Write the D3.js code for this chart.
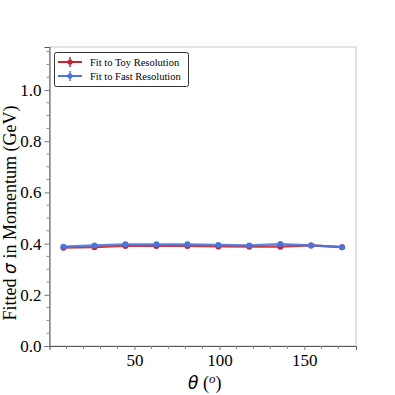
<!DOCTYPE html>
<html>
<head>
<meta charset="utf-8">
<script src="https://cdn.jsdelivr.net/npm/d3@7"></script>
<style>
  body { margin: 0; background: #fff; }
  svg { display: block; }
  .tick text { font-family: 'Liberation Serif', 'Times New Roman', serif !important; }
</style>
</head>
<body>
<div id="chart"></div>
<script>
// DATA

var theta = [8.2, 26.5, 44.7, 62.9, 81.2, 99.4, 117.6, 135.9, 154.0, 172.2];
var toySigma = [0.384, 0.386, 0.391, 0.391, 0.391, 0.389, 0.388, 0.388, 0.393, 0.386];
var toyErr = [0.006, 0.006, 0.006, 0.006, 0.006, 0.006, 0.006, 0.006, 0.006, 0.006];
var fastSigma = [0.388, 0.393, 0.397, 0.397, 0.397, 0.395, 0.393, 0.398, 0.393, 0.386];
var fastErr = [0.005, 0.005, 0.005, 0.005, 0.005, 0.005, 0.005, 0.005, 0.005, 0.005];
var xTicks = [50, 100, 150];
var yTicks = [0.0, 0.2, 0.4, 0.6, 0.8, 1.0];
var seriesNames = ["Fit to Toy Resolution", "Fit to Fast Resolution"];
var seriesColors = ["#c1272d", "#4a74e0"];

// CHART

var width = 395, height = 395;
var plotLeft = 49.5, plotRight = 356, plotTop = 47, plotBottom = 346;

var svg = d3.select("#chart").append("svg")
    .attr("width", width)
    .attr("height", height);

var x = d3.scaleLinear().domain([0, 180.4]).range([plotLeft, plotRight]);
var y = d3.scaleLinear().domain([0, 1.168]).range([plotBottom, plotTop]);

// frame (top / right light)
svg.append("rect")
    .attr("x", plotLeft).attr("y", plotTop)
    .attr("width", plotRight - plotLeft).attr("height", plotBottom - plotTop)
    .attr("fill", "none").attr("stroke", "#c8c8c8").attr("stroke-width", 1);

var serif = "'Liberation Serif', 'Times New Roman', serif";

// y axis
var yAxis = d3.axisLeft(y).tickValues(yTicks).tickFormat(d3.format(".1f")).tickSize(5).tickPadding(3);
var gy = svg.append("g").attr("transform", "translate(" + plotLeft + ",0)").call(yAxis);
gy.select(".domain").attr("stroke", "#555");
gy.selectAll(".tick line").attr("stroke", "#777");
gy.selectAll("text").style("font-family", serif).style("font-size", "17px").attr("fill", "#000");

var yMinor = d3.range(0, 1.17, 0.05).filter(v => Math.abs(Math.round(v * 5) - v * 5) > 1e-6);
svg.append("g").selectAll("line").data(yMinor).join("line")
    .attr("x1", plotLeft - 3).attr("x2", plotLeft)
    .attr("y1", d => y(d)).attr("y2", d => y(d))
    .attr("stroke", "#888");

// x axis
var xAxis = d3.axisBottom(x).tickValues(xTicks).tickSize(4).tickPadding(4);
var gx = svg.append("g").attr("transform", "translate(0," + plotBottom + ")").call(xAxis);
gx.select(".domain").attr("stroke", "#555");
gx.selectAll(".tick line").attr("stroke", "#777");
gx.selectAll("text").style("font-family", serif).style("font-size", "17px").attr("fill", "#000");

var xMinor = d3.range(10, 180, 10).filter(v => v % 50 != 0);
svg.append("g").selectAll("line").data(xMinor).join("line")
    .attr("x1", d => x(d)).attr("x2", d => x(d))
    .attr("y1", plotBottom).attr("y2", plotBottom + 3)
    .attr("stroke", "#888");

// axis titles
var xt = svg.append("text")
    .attr("x", (plotLeft + plotRight) / 2 + 2).attr("y", 389)
    .attr("text-anchor", "middle")
    .attr("font-family", serif).attr("font-size", 18);
xt.append("tspan").attr("font-family", "'DejaVu Sans', sans-serif").attr("font-style", "italic").attr("font-size", 17).text("θ");
xt.append("tspan").text(" (");
xt.append("tspan").attr("font-style", "italic").attr("font-size", 13).attr("dy", -6).text("o");
xt.append("tspan").attr("dy", 6).text(")");

var yt = svg.append("text")
    .attr("transform", "translate(16,213) rotate(-90)")
    .attr("text-anchor", "middle")
    .attr("font-family", serif).attr("font-size", 18);
yt.append("tspan").text("Fitted ");
yt.append("tspan").attr("font-family", "'DejaVu Sans', sans-serif").attr("font-style", "italic").attr("font-size", 17).text("σ");
yt.append("tspan").text(" in Momentum (GeV)");

// series
var series = [
    { name: seriesNames[0], color: seriesColors[0], vals: toySigma, errs: toyErr },
    { name: seriesNames[1], color: seriesColors[1], vals: fastSigma, errs: fastErr }
];

var line = d3.line().x(d => x(d[0])).y(d => y(d[1]));

series.forEach(s => {
    var pts = theta.map((t, i) => [t, s.vals[i], s.errs[i]]);
    var g = svg.append("g");
    g.append("path")
        .attr("d", line(pts))
        .attr("fill", "none")
        .attr("stroke", s.color)
        .attr("stroke-width", 2.2)
        .attr("stroke-opacity", 0.9);
    g.selectAll("line.err").data(pts).join("line")
        .attr("class", "err")
        .attr("x1", d => x(d[0])).attr("x2", d => x(d[0]))
        .attr("y1", d => y(d[1] - d[2])).attr("y2", d => y(d[1] + d[2]))
        .attr("stroke", s.color).attr("stroke-width", 2);
    g.selectAll("circle").data(pts).join("circle")
        .attr("cx", d => x(d[0])).attr("cy", d => y(d[1]))
        .attr("r", 3)
        .attr("fill", s.color);
});

// legend
var legend = svg.append("g");
legend.append("rect")
    .attr("x", 54.5).attr("y", 52.5)
    .attr("width", 134).attr("height", 34)
    .attr("rx", 2)
    .attr("fill", "#fff").attr("stroke", "#333").attr("stroke-width", 1);

series.forEach((s, i) => {
    var ly = 62 + i * 14;
    legend.append("line")
        .attr("x1", 58).attr("x2", 82).attr("y1", ly).attr("y2", ly)
        .attr("stroke", s.color).attr("stroke-width", 2);
    legend.append("line")
        .attr("x1", 70).attr("x2", 70).attr("y1", ly - 5).attr("y2", ly + 5)
        .attr("stroke", s.color).attr("stroke-width", 1.5);
    legend.append("circle")
        .attr("cx", 70).attr("cy", ly).attr("r", 2.6)
        .attr("fill", s.color);
    legend.append("text")
        .attr("x", 90).attr("y", ly + 3.5)
        .attr("font-family", serif).attr("font-size", 10.5)
        .text(s.name);
});
</script>
</body>
</html>
